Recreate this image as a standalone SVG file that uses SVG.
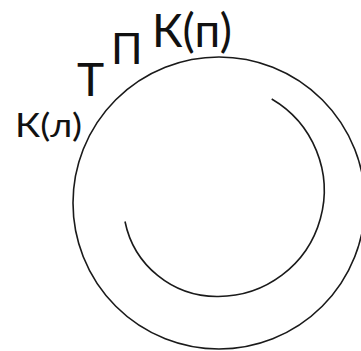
<svg xmlns="http://www.w3.org/2000/svg" width="361" height="351" viewBox="0 0 361 351">
<style>
.lbl{font-family:"Lato","Open Sans","DejaVu Sans",sans-serif;fill:#111}
.ln{fill:none;stroke:#1a1a1a;stroke-width:1.6}
</style>
<rect width="361" height="351" fill="#fff"/>
<g id="connectors">
<circle id="outer" class="ln" cx="219" cy="203" r="146"/>
<path id="inner" class="ln" d="M271.7,99 A106,106 0 0 1 217,296.5 A93.6,93.6 0 0 1 125,221.5"/>
</g>
<g id="label-kp"><text class="lbl" x="152" y="46.5" font-size="46" textLength="80" lengthAdjust="spacingAndGlyphs">К(п)</text></g>
<g id="label-p"><text class="lbl" x="111" y="64" font-size="43">П</text></g>
<g id="label-t"><text class="lbl" x="77" y="96" font-size="46">Т</text></g>
<g id="label-kl"><text class="lbl" x="15" y="137" font-size="32" textLength="67" lengthAdjust="spacingAndGlyphs">К(л)</text></g>
</svg>
